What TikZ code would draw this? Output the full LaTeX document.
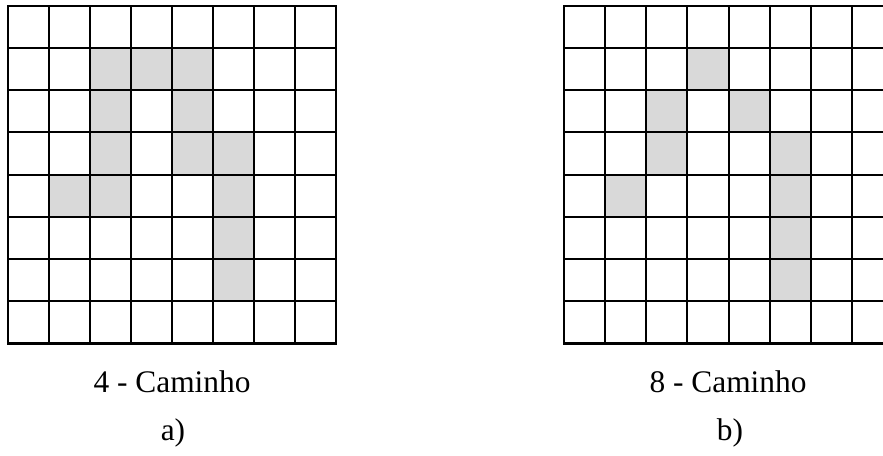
\documentclass[tikz,border=0pt]{standalone}
\usepackage{fontspec}
\setmainfont{Liberation Serif}
\definecolor{cellgray}{RGB}{217,217,217}
\tikzset{
  pathcell/.style={fill=cellgray},
  gridline/.style={line width=2pt, line cap=rect},
  rimline/.style={line width=2.8pt, line cap=rect},
  caption/.style={font=\fontsize{31.4}{36}\selectfont, inner sep=0pt, anchor=base}
}
\begin{document}
\begin{tikzpicture}[x=1pt,y=-1pt]
\useasboundingbox (0,0) rectangle (883,455);
\clip (0,0) rectangle (883,455);
\begin{scope}[shift={(8,6)}, x=41pt, y=-42.15pt]
\foreach \c/\r in {2/1,3/1,4/1,2/2,4/2,2/3,4/3,5/3,1/4,2/4,5/4,5/5,5/6}
  \fill[pathcell] (\c,\r) rectangle ++(1,1);
\foreach \i in {0,...,8} {
  \draw[gridline] (\i,0) -- (\i,8);
  \draw[gridline] (0,\i) -- (8,\i);
}
\draw[rimline] (0,8) -- (8,8) -- (8,0);
\end{scope}
\begin{scope}[shift={(564,6)}, x=41.14pt, y=-42.15pt]
\foreach \c/\r in {3/1,2/2,4/2,2/3,5/3,1/4,5/4,5/5,5/6}
  \fill[pathcell] (\c,\r) rectangle ++(1,1);
\foreach \i in {0,...,8} {
  \draw[gridline] (\i,0) -- (\i,8);
  \draw[gridline] (0,\i) -- (8,\i);
}
\draw[rimline] (0,8) -- (8,8) -- (8,0);
\end{scope}
\node[caption] (capA) at (172,392) {4 - Caminho};
\node[caption] (labA) at (173,440) {a)};
\node[caption] (capB) at (728,392) {8 - Caminho};
\node[caption] (labB) at (730,440) {b)};
\end{tikzpicture}
\end{document}
